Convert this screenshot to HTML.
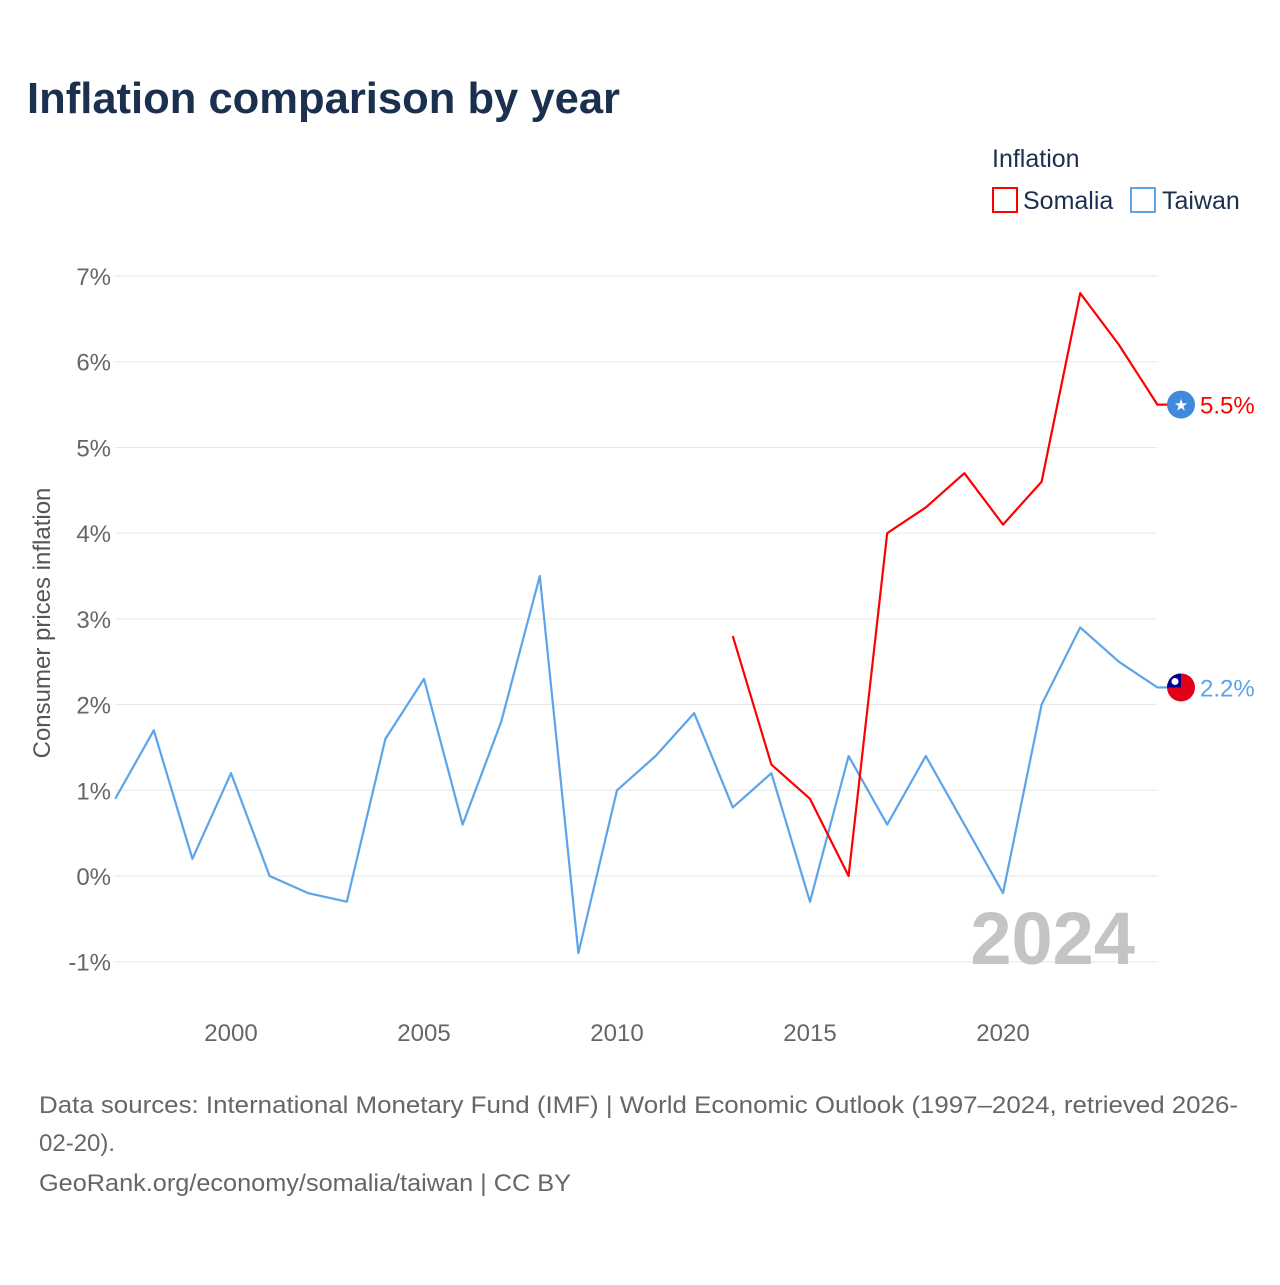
<!DOCTYPE html>
<html><head><meta charset="utf-8"><style>
body{margin:0;width:1280px;height:1280px;background:#fff;font-family:"Liberation Sans",sans-serif;overflow:hidden}
svg text{font-family:"Liberation Sans",sans-serif}
</style></head><body>
<svg id="chart" width="1280" height="1280" xmlns="http://www.w3.org/2000/svg">
<text x="27" y="113" font-size="44" font-weight="bold" fill="#1b2f4e" textLength="593" lengthAdjust="spacingAndGlyphs">Inflation comparison by year</text>
<text x="992" y="167" font-size="25" fill="#1b2f4e">Inflation</text>
<g><rect x="993" y="188" width="24" height="24" fill="none" stroke="#ff0000" stroke-width="2"/><text x="1023" y="209" font-size="25" fill="#1b2f4e">Somalia</text></g>
<g><rect x="1131" y="188" width="24" height="24" fill="none" stroke="#5ba4ea" stroke-width="2"/><text x="1162" y="209" font-size="25" fill="#1b2f4e">Taiwan</text></g>
<text transform="translate(50,623) rotate(-90)" text-anchor="middle" font-size="24" fill="#555">Consumer prices inflation</text>
<g id="grid"></g><g id="series"></g>
<text x="1135" y="964" text-anchor="end" font-size="74" font-weight="bold" fill="#c4c4c4">2024</text>
<text font-size="24" fill="#666"><tspan x="39" y="1113" textLength="1199" lengthAdjust="spacingAndGlyphs">Data sources: International Monetary Fund (IMF) | World Economic Outlook (1997–2024, retrieved 2026-</tspan><tspan x="39" y="1151">02-20).</tspan><tspan x="39" y="1191" textLength="532" lengthAdjust="spacingAndGlyphs">GeoRank.org/economy/somalia/taiwan | CC BY</tspan></text>
</svg>
<script>
const years=[1997,1998,1999,2000,2001,2002,2003,2004,2005,2006,2007,2008,2009,2010,2011,2012,2013,2014,2015,2016,2017,2018,2019,2020,2021,2022,2023,2024];
const taiwan=[0.9,1.7,0.2,1.2,0.0,-0.2,-0.3,1.6,2.3,0.6,1.8,3.5,-0.9,1.0,1.4,1.9,0.8,1.2,-0.3,1.4,0.6,1.4,0.6,-0.2,2.0,2.9,2.5,2.2];
const somaliaYears=[2013,2014,2015,2016,2017,2018,2019,2020,2021,2022,2023,2024];
const somalia=[2.8,1.3,0.9,0.0,4.0,4.3,4.7,4.1,4.6,6.8,6.2,5.5];
const yTicks=[-1,0,1,2,3,4,5,6,7];
const xTicks=[2000,2005,2010,2015,2020];
const NS="http://www.w3.org/2000/svg";
const x=v=>231+(v-2000)*38.6;
const y=v=>876-v*85.71;
function mk(t,a,p){const e=document.createElementNS(NS,t);for(const k in a)e.setAttribute(k,a[k]);p.appendChild(e);return e;}
const grid=document.getElementById('grid'),ser=document.getElementById('series');
yTicks.forEach(t=>{
 const l=mk('line',{x1:115,x2:1157,y1:y(t),y2:y(t),stroke:'#e6e6e6','stroke-width':1},grid);
 
 
 const tx=mk('text',{x:111,y:y(t)+9,'text-anchor':'end','font-size':24,fill:'#666'},grid);
 tx.textContent=t+'%';
 
 
});
xTicks.forEach(t=>{
 const tx=mk('text',{x:x(t),y:1041,'text-anchor':'middle','font-size':24,fill:'#666'},grid);
 tx.textContent=t;
 
 
});
function line(xs,vs,c,name){
 const pts=xs.map((yr,i)=>x(yr)+','+y(vs[i]));
 const last=vs[vs.length-1];
 pts.push((x(xs[xs.length-1])+10)+','+y(last));
 const p=mk('polyline',{points:pts.join(' '),fill:'none',stroke:c,'stroke-width':2.2,'stroke-linejoin':'round'},ser);
 
 
 const t=mk('text',{x:1200,y:y(last)+9,'font-size':24,fill:c},ser);
 t.textContent=last.toFixed(1)+'%';
 
 
 return y(last);
}
const ty=line(years,taiwan,'#5ba4ea','taiwan');
const sy=line(somaliaYears,somalia,'#ff0000','somalia');
const fs=mk('g',{},ser);


mk('circle',{cx:1181,cy:sy,r:14,fill:'#4189dd'},fs);
const st=mk('text',{x:1181,y:sy+6,'text-anchor':'middle','font-size':16,fill:'#fff'},fs);st.textContent='★';
const ft=mk('g',{},ser);


mk('circle',{cx:1181,cy:ty,r:14,fill:'#e0001a'},ft);
mk('path',{d:`M1167 ${ty} A14 14 0 0 1 1181 ${ty-14} L1181 ${ty} Z`,fill:'#000095'},ft);
mk('circle',{cx:1175,cy:ty-6,r:3.5,fill:'#fff'},ft);
</script>
</body></html>
